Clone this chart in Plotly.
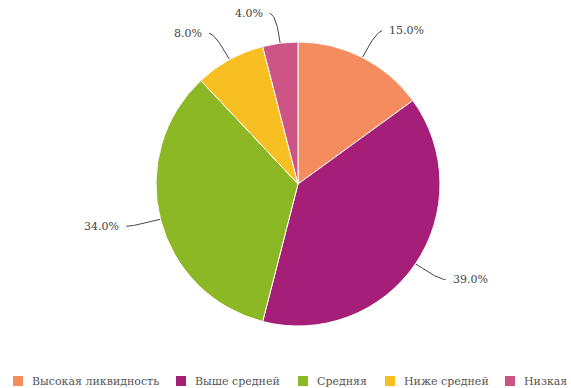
import numpy as np
import plotly.graph_objects as go

# ---- data ----
categories = ["Высокая ликвидность", "Выше средней", "Средняя", "Ниже средней", "Низкая"]
values = [15.0, 39.0, 34.0, 8.0, 4.0]
colors = ["#F58C5E", "#A51E78", "#8DB825", "#F7BF22", "#CD5586"]

# ---- layout constants (pixels) ----
W, H = 571, 388
CX, CY, R = 298, 184, 142
LEG_X = [13, 176, 298, 385, 505]
LEG_Y = 381
FONT = "DejaVu Serif"

fig = go.Figure()
fig.add_trace(go.Pie(
    labels=categories, values=values, sort=False,
    direction="clockwise", rotation=0,
    marker=dict(colors=colors, line=dict(color="white", width=1)),
    textinfo="none", hoverinfo="label+percent", showlegend=False,
    domain=dict(x=[(CX - R) / W, (CX + R) / W], y=[1 - (CY + R) / H, 1 - (CY - R) / H]),
))

total = float(sum(values))
cum = np.cumsum([0.0] + values)
for i, v in enumerate(values):
    mid = (cum[i] + v / 2) / total * 2 * np.pi
    sx, sy = np.sin(mid), -np.cos(mid)
    p0 = (CX + R * sx, CY + R * sy)
    p1 = (CX + (R + 28) * sx, CY + (R + 28) * sy)
    side = 1 if sx >= 0 else -1
    p2 = (p1[0] + 7 * side, p1[1] - 2 * (1 if sy < 0 else 0))
    t = np.linspace(0, 1, 25)
    bx = (1 - t) ** 2 * p0[0] + 2 * (1 - t) * t * p1[0] + t ** 2 * p2[0]
    by = (1 - t) ** 2 * p0[1] + 2 * (1 - t) * t * p1[1] + t ** 2 * p2[1]
    fig.add_trace(go.Scatter(x=bx, y=by, mode="lines", line=dict(color="#444", width=1),
                             hoverinfo="skip", showlegend=False))
    fig.add_annotation(x=p2[0] + 5 * side, y=p2[1], xref="x", yref="y",
                       text=f"{v / total * 100:.1f}%", showarrow=False,
                       xanchor="left" if side > 0 else "right", yanchor="middle",
                       font=dict(family=FONT, size=11, color="#444"))

# custom legend
for lx, name, col in zip(LEG_X, categories, colors):
    fig.add_shape(type="rect", xref="x", yref="y", x0=lx, x1=lx + 10,
                  y0=LEG_Y - 5, y1=LEG_Y + 5, fillcolor=col, line=dict(width=0))
    fig.add_annotation(x=lx + 17, y=LEG_Y, xref="x", yref="y", text=name, showarrow=False,
                       xanchor="left", yanchor="middle",
                       font=dict(family=FONT, size=11, color="#555"))

fig.update_layout(
    width=W, height=H, margin=dict(l=0, r=0, t=0, b=0),
    paper_bgcolor="white", plot_bgcolor="white",
    xaxis=dict(range=[0, W], visible=False, fixedrange=True),
    yaxis=dict(range=[H, 0], visible=False, fixedrange=True),
    showlegend=False,
)

fig.write_html("out.html")
